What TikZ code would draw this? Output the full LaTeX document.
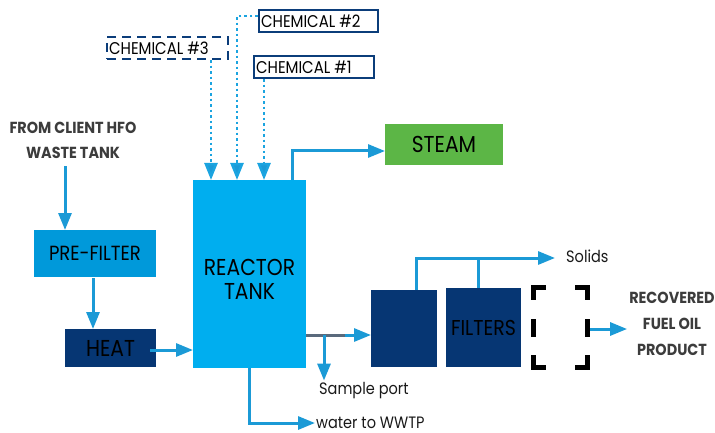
\documentclass[tikz,border=0pt]{standalone}
\usepackage{fontspec}
\setmainfont{Poppins}[FakeStretch=0.88]
\newfontfamily\boldlab{Poppins}[FakeStretch=0.9]
\usetikzlibrary{arrows.meta}
\definecolor{rblue}{HTML}{00AEEF}
\definecolor{pblue}{HTML}{0099DA}
\definecolor{navy}{HTML}{063673}
\definecolor{cborder}{HTML}{0B3D7A}
\definecolor{arr}{HTML}{1B9AD6}
\definecolor{dotc}{HTML}{1BA4E0}
\definecolor{steamg}{HTML}{5CB646}
\definecolor{labgray}{HTML}{3C3C3C}
\definecolor{linegray}{HTML}{5A6A7C}
\tikzset{
  box/.style={inner sep=0pt, outer sep=0pt, anchor=center},
  txt/.style={inner sep=0pt, text=black, font=\fontsize{23}{23}\selectfont},
  chem/.style={draw=cborder, line width=2.2pt, inner sep=0pt, minimum height=22pt},
  chemtxt/.style={inner sep=0pt, anchor=west, text=black, font=\fontsize{17}{17}\selectfont},
  flow/.style={draw=arr, line width=3pt, -{Triangle[length=17pt,width=13pt]}},
  dotflow/.style={draw=dotc, line width=2.5pt, dash pattern=on 2.5pt off 3pt, -{Triangle[length=17pt,width=13pt,fill=arr]}},
  lab/.style={font=\boldlab\bfseries\fontsize{16}{16}\selectfont, text=labgray, inner sep=0pt, align=center},
  small/.style={font=\fontsize{16.5}{16.5}\selectfont, text=black!90, inner sep=0pt},
  brk/.style={line width=5pt, draw=black}
}
\begin{document}
\begin{tikzpicture}[x=1pt,y=-1pt]
\useasboundingbox (0,0) rectangle (715,433);
% boxes
\node[box, fill=rblue, minimum width=113pt, minimum height=188pt] (reactor) at (249.5,274) {};
\node[txt, align=center] (rtext) at (249.5,279) {REACTOR\\[1pt]TANK};
\node[box, fill=pblue, minimum width=122pt, minimum height=47pt] (pre) at (95,253.5) {};
\node[txt, font=\fontsize{20.5}{20.5}\selectfont] (pretext) at (pre.center) {PRE-FILTER};
\node[box, fill=navy, minimum width=91pt, minimum height=38pt] (heat) at (110.5,348) {};
\node[txt] (heattext) at (heat.center) {HEAT};
\node[box, fill=steamg, minimum width=118pt, minimum height=41pt] (steam) at (444,144.5) {};
\node[txt] (steamtext) at (steam.center) {STEAM};
\node[box, fill=navy, minimum width=66pt, minimum height=77pt] (f1) at (404,328.5) {};
\node[box, fill=navy, minimum width=75pt, minimum height=79pt] (f2) at (483.5,327.5) {};
\node[txt, font=\fontsize{21.5}{21.5}\selectfont] (ftext) at (f2.center) {FILTERS};
\node[inner sep=0pt, minimum width=59pt, minimum height=79pt] (brk) at (560.5,327.5) {};
% bracket
\draw[brk] ([xshift=2.5pt,yshift=-12pt]brk.north west) -- ([xshift=2.5pt]brk.north west) -- ([xshift=15.5pt]brk.north west);
\draw[brk] ([xshift=-2.5pt,yshift=-12pt]brk.north east) -- ([xshift=-2.5pt]brk.north east) -- ([xshift=-15.5pt]brk.north east);
\draw[brk] ([xshift=2.5pt,yshift=12pt]brk.south west) -- ([xshift=2.5pt]brk.south west) -- ([xshift=15.5pt]brk.south west);
\draw[brk] ([xshift=-2.5pt,yshift=12pt]brk.south east) -- ([xshift=-2.5pt]brk.south east) -- ([xshift=-15.5pt]brk.south east);
\draw[brk] ([xshift=2.5pt,yshift=-9pt]brk.west) -- ([xshift=2.5pt,yshift=9pt]brk.west);
\draw[brk] ([xshift=-2.5pt,yshift=-9pt]brk.east) -- ([xshift=-2.5pt,yshift=9pt]brk.east);
% chemicals
\node[chem, minimum width=119pt] (c2) at (318.5,21) {};
\node[chemtxt] (c2t) at ([xshift=3pt]c2.west) {CHEMICAL \#2};
\node[chem, minimum width=121pt, dash pattern=on 9pt off 6pt] (c3) at (167.5,48) {};
\node[chemtxt] (c3t) at ([xshift=3pt]c3.west) {CHEMICAL \#3};
\node[chem, minimum width=120pt] (c1) at (314,67) {};
\node[chemtxt] (c1t) at ([xshift=3pt]c1.west) {CHEMICAL \#1};
% labels
\node[lab] (from) at (73,140) {FROM CLIENT HFO\\[9pt]WASTE TANK};
\node[lab] (rec) at (672,324) {RECOVERED\\[10pt]FUEL OIL\\[10pt]PRODUCT};
\node[small, anchor=west] (solids) at (566,256) {Solids};
\node[small, anchor=west] (sample) at (319,391) {Sample port};
\node[small, anchor=base west] (wwtp) at (316,428) {water to WWTP};
% dotted chemical feeds
\draw[dotflow] (c3.south -| 211,0) -- (reactor.north -| 211,0);
\draw[dotflow] (c2.west |- 0,16) -- (237,16) -- (reactor.north -| 237,0);
\draw[dotflow] (c1.south -| 264,0) -- (reactor.north -| 264,0);
% main flows
\draw[flow] ([yshift=-8pt]from.south -| 65,0) -- (pre.north -| 65,0);
\draw[flow] ([yshift=-1pt]pre.south -| 93,0) -- (heat.north -| 93,0);
\draw[flow] ([xshift=-6pt]heat.east |- 0,350) -- (reactor.west |- 0,350);
\draw[flow] (reactor.north -| 292,0) -- (292,151) -- (steam.west |- 0,151);
\draw[line width=3pt, draw=linegray] (reactor.east |- 0,335) -- (350,335);
\draw[flow] (345,335) -- (f1.west |- 0,335);
\draw[flow] (324,335) -- ([yshift=2pt]sample.north -| 324,0);
\draw[flow] (f1.north -| 416,0) -- (416,258) -- ([xshift=-11pt]solids.west |- 0,258);
\draw[line width=3pt, draw=arr] (f2.north -| 478,0) -- (478,258);
\draw[flow] (reactor.south -| 249,0) -- (249,423) -- ([xshift=-1pt]wwtp.west |- 0,423);
\draw[flow] (brk.east |- 0,329) -- ([xshift=-2pt]rec.west |- 0,329);
\end{tikzpicture}
\end{document}
